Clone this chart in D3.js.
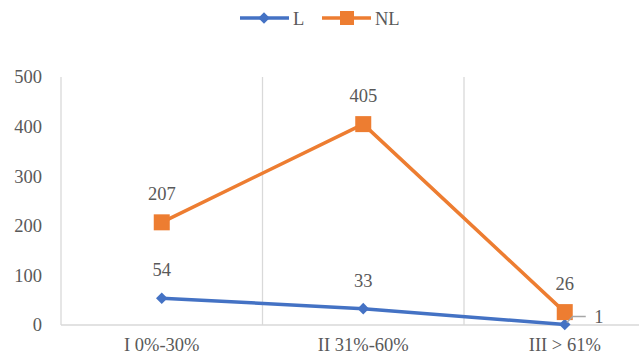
<!DOCTYPE html>
<html>
<head>
<meta charset="UTF-8">
<title>L vs NL</title>
<style>
  body { margin: 0; background: #fff; }
  text { font-family: "Liberation Serif", "Times New Roman", serif; }
</style>
</head>
<body>
<div id="chart"></div>
<script src="https://d3js.org/d3.v7.min.js"></script>
<script>
var width = 639, height = 355;
var categories = ["I 0%-30%", "II 31%-60%", "III > 61%"];
var seriesNames = ["L", "NL"];
var valuesL = [54, 33, 1];
var valuesNL = [207, 405, 26];
var yTicks = [0, 100, 200, 300, 400, 500];

var colors = { L: "#4472C4", NL: "#ED7D31" };
var series = [
  { name: "L", values: valuesL },
  { name: "NL", values: valuesNL }
];
var fs = 18.5;

var svg = d3.select("#chart").append("svg")
  .attr("width", width)
  .attr("height", height);

// plot area is wider than the picture: the right part is cut off
var plotLeft = 61, bandW = 201.5, plotTop = 77, plotBottom = 325;

var x = d3.scaleBand()
  .domain(categories)
  .range([plotLeft, plotLeft + bandW * categories.length]);

var y = d3.scaleLinear()
  .domain([0, 500])
  .range([plotBottom, plotTop]);

// vertical gridlines at band edges
svg.append("g").selectAll("line")
  .data(categories)
  .enter().append("line")
  .attr("x1", function(d) { return x(d); })
  .attr("x2", function(d) { return x(d); })
  .attr("y1", plotTop)
  .attr("y2", plotBottom)
  .attr("stroke", "#d9d9d9")
  .attr("stroke-width", 1.3);

// category axis
var xAxis = d3.axisBottom(x).tickSize(0).tickPadding(12.5);
var gx = svg.append("g")
  .attr("transform", "translate(0," + plotBottom + ")")
  .call(xAxis);
gx.select(".domain").attr("stroke", "#d9d9d9").attr("stroke-width", 1.3)
  .attr("d", "M" + plotLeft + ",0H" + width);
gx.attr("font-size", fs).attr("font-family", "'Liberation Serif', serif");
gx.selectAll("text").attr("fill", "#595959");

// value axis labels only
var yAxis = d3.axisLeft(y).tickValues(yTicks).tickSize(0).tickPadding(19);
var gy = svg.append("g")
  .attr("transform", "translate(" + plotLeft + ",0)")
  .call(yAxis);
gy.select(".domain").remove();
gy.attr("font-size", fs).attr("font-family", "'Liberation Serif', serif");
gy.selectAll("text").attr("fill", "#595959");

var line = d3.line()
  .x(function(d, i) { return x(categories[i]) + x.bandwidth() / 2; })
  .y(function(d) { return y(d); });

series.forEach(function(s) {
  svg.append("path")
    .datum(s.values)
    .attr("fill", "none")
    .attr("stroke", colors[s.name])
    .attr("stroke-width", 3.5)
    .attr("stroke-linejoin", "round")
    .attr("d", line);
});

// markers: L diamond, NL square
var symL = d3.symbol().type(d3.symbolDiamond2).size(85);
svg.append("g").selectAll("path")
  .data(valuesL)
  .enter().append("path")
  .attr("d", symL)
  .attr("transform", function(d, i) {
    return "translate(" + (x(categories[i]) + x.bandwidth() / 2) + "," + y(d) + ")";
  })
  .attr("fill", colors.L);

svg.append("g").selectAll("rect")
  .data(valuesNL)
  .enter().append("rect")
  .attr("x", function(d, i) { return x(categories[i]) + x.bandwidth() / 2 - 8; })
  .attr("y", function(d) { return y(d) - 8; })
  .attr("width", 16)
  .attr("height", 16)
  .attr("fill", colors.NL);

// data labels
function labelFor(values, name) {
  svg.append("g").selectAll("text")
    .data(values)
    .enter().append("text")
    .attr("x", function(d, i) {
      var cx = x(categories[i]) + x.bandwidth() / 2;
      return (name === "L" && i === 2) ? cx + 34 : cx;
    })
    .attr("y", function(d, i) {
      return (name === "L" && i === 2) ? y(d) - 1.5 : y(d) - 22;
    })
    .attr("text-anchor", "middle")
    .attr("fill", "#595959")
    .attr("font-size", fs)
    .text(function(d) { return d; });
}
labelFor(valuesNL, "NL");
labelFor(valuesL, "L");

// leader line for the "1" label
var cx3 = x(categories[2]) + x.bandwidth() / 2;
svg.append("path")
  .attr("d", "M" + (cx3 + 2) + "," + (y(valuesL[2]) - 2) + "L" + (cx3 + 8) + "," + (y(valuesL[2]) - 8) + "H" + (cx3 + 21))
  .attr("fill", "none")
  .attr("stroke", "#a6a6a6")
  .attr("stroke-width", 1.3);

// legend
var legend = svg.append("g");
var legendX = [240, 322];
seriesNames.forEach(function(n, i) {
  var lx = legendX[i];
  legend.append("line")
    .attr("x1", lx).attr("x2", lx + 49)
    .attr("y1", 18).attr("y2", 18)
    .attr("stroke", colors[n]).attr("stroke-width", 3.5);
  if (n === "L") {
    legend.append("path")
      .attr("d", symL)
      .attr("transform", "translate(" + (lx + 24) + ",18)")
      .attr("fill", colors[n]);
  } else {
    legend.append("rect")
      .attr("x", lx + 18).attr("y", 11)
      .attr("width", 14).attr("height", 14)
      .attr("fill", colors[n]);
  }
  legend.append("text")
    .attr("x", lx + 53)
    .attr("y", 25)
    .attr("fill", "#595959")
    .attr("font-size", fs)
    .text(n);
});
</script>
</body>
</html>
